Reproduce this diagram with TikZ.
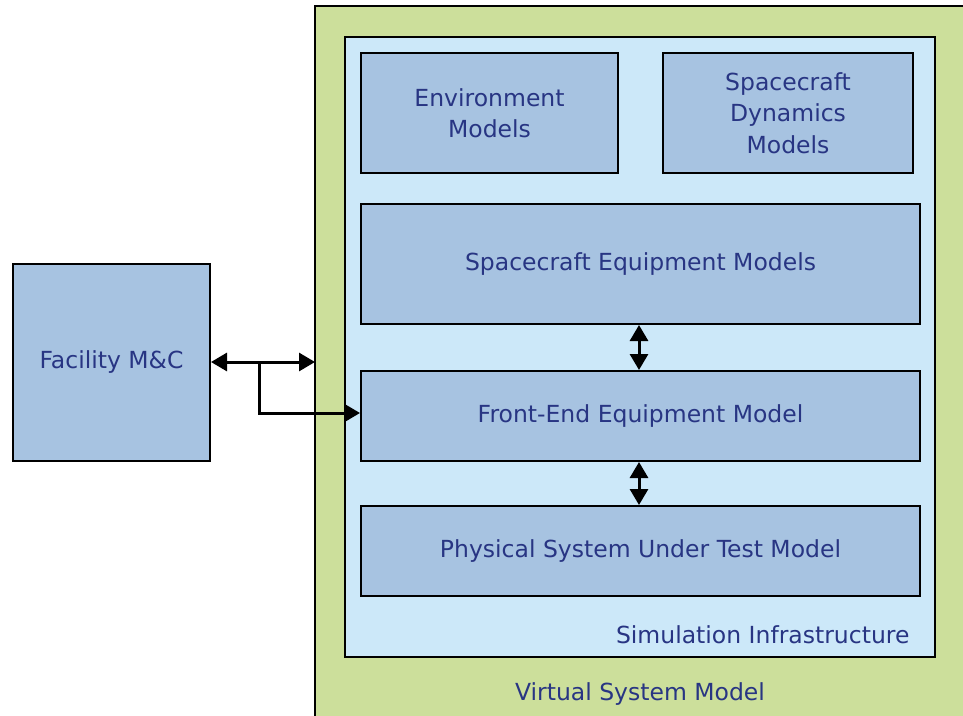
\documentclass[tikz,border=0pt]{standalone}
\usepackage{fontspec}
\setmainfont{DejaVu Sans}
\usetikzlibrary{arrows.meta}
\definecolor{vsgreen}{RGB}{204,223,155}
\definecolor{silight}{RGB}{204,232,249}
\definecolor{boxblue}{RGB}{167,195,225}
\definecolor{txtblue}{RGB}{40,53,131}
\tikzset{
  model/.style={draw=black, line width=2pt, fill=boxblue, text=txtblue, align=center, font=\fontsize{23.5}{31.5}\selectfont},
  lbl/.style={text=txtblue, font=\fontsize{23.5}{31.5}\selectfont},
  conn/.style={line width=3pt, -{Triangle[length=16pt,width=18pt]}},
  dconn/.style={line width=3pt, {Triangle[length=16pt,width=18pt]}-{Triangle[length=16pt,width=18pt]}},
}
\begin{document}
\begin{tikzpicture}[x=1pt,y=-1pt]
\useasboundingbox (0,0) rectangle (963,715);
\begin{scope}
\clip (0,0) rectangle (963,715);
\draw[line width=2pt, fill=vsgreen] (315,6) rectangle (975,730);
\end{scope}
\coordinate (vsmL) at (315,362);
\draw[line width=2pt, fill=silight] (345,37) rectangle (935,657);
\node[model, minimum width=257pt, minimum height=120pt, anchor=north west] (env) at (360,52) {Environment\\Models};
\node[model, minimum width=250pt, minimum height=120pt, anchor=north west] (dyn) at (662,52) {Spacecraft\\Dynamics\\Models};
\node[model, minimum width=559pt, minimum height=120pt, anchor=north west] (sem) at (360,203) {\raisebox{-3pt}{Spacecraft Equipment Models}};
\node[model, minimum width=559pt, minimum height=90pt, anchor=north west] (fem) at (360,370) {\raisebox{-2pt}{Front-End Equipment Model}};
\node[model, minimum width=559pt, minimum height=90pt, anchor=north west] (pst) at (360,505) {\raisebox{-2pt}{Physical System Under Test Model}};
\node[model, minimum width=197pt, minimum height=197pt, anchor=north west] (fmc) at (12,263) {\raisebox{-2pt}{Facility M\&C}};
\node[lbl, anchor=base east] (sil) at (913,643) {Simulation Infrastructure};
\node[lbl, anchor=base] (vsl) at (640,700) {Virtual System Model};
\coordinate (br) at (259,362);
\draw[dconn] (fmc.east |- vsmL) -- (vsmL);
\draw[conn] (br) |- (fem.west |- 0,413);
\draw[dconn] (sem.south -| 639,0) -- (fem.north -| 639,0);
\draw[dconn] (fem.south -| 639,0) -- (pst.north -| 639,0);
\end{tikzpicture}
\end{document}
